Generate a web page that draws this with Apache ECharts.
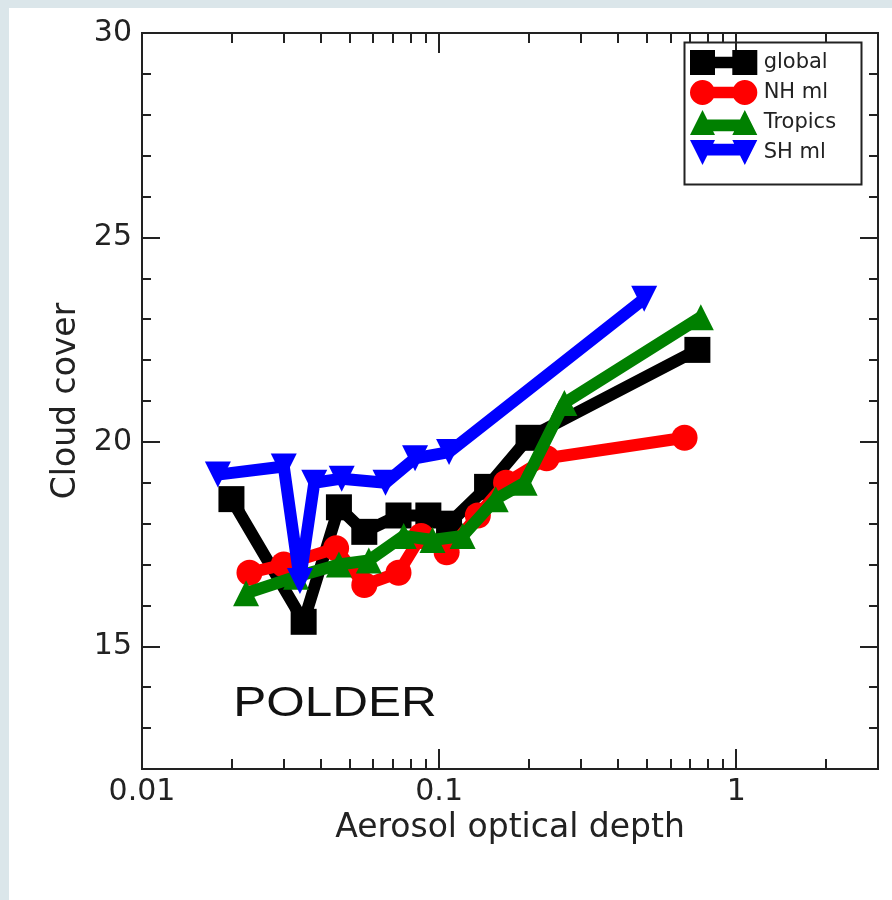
<!DOCTYPE html>
<html><head><meta charset="utf-8">
<script src="https://cdn.jsdelivr.net/npm/echarts@6/dist/echarts.min.js"></script>
<style>html,body{margin:0;padding:0;background:#fff}#c{width:892px;height:900px}</style>
</head><body><div id="c"></div>
<script>
const seriesNames = ['global', 'NH ml', 'Tropics', 'SH ml'];
const globalX = [0.02, 0.035, 0.046, 0.056, 0.073, 0.092, 0.108, 0.145, 0.2, 0.74];
const globalY = [18.6, 15.6, 18.4, 17.8, 18.2, 18.2, 18.0, 18.9, 20.1, 22.25];
const nhX = [0.023, 0.030, 0.045, 0.056, 0.073, 0.087, 0.106, 0.135, 0.168, 0.23, 0.67];
const nhY = [16.8, 17.0, 17.4, 16.5, 16.8, 17.7, 17.3, 18.2, 19.0, 19.6, 20.1];
const trX = [0.0224, 0.033, 0.046, 0.058, 0.076, 0.095, 0.12, 0.155, 0.194, 0.264, 0.76];
const trY = [16.3, 16.7, 17.0, 17.1, 17.7, 17.6, 17.7, 18.6, 19.0, 20.95, 23.05];
const shX = [0.018, 0.030, 0.034, 0.038, 0.047, 0.066, 0.083, 0.108, 0.49];
const shY = [19.2, 19.4, 16.6, 19.0, 19.1, 19.0, 19.6, 19.75, 23.5];
const xMajorTicks = [0.01, 0.1, 1];
const xMinorTicks = [0.02, 0.03, 0.04, 0.05, 0.06, 0.07, 0.08, 0.09, 0.2, 0.3, 0.4, 0.5, 0.6, 0.7, 0.8, 0.9, 2];
const yMajorTicks = [15, 20, 25, 30];
const yMinorTicks = [13, 14, 16, 17, 18, 19, 21, 22, 23, 24, 26, 27, 28, 29];

const FONT = 'DejaVu Sans, Verdana, sans-serif';
const FONT2 = 'Liberation Sans, Arial, Helvetica, sans-serif';
const AX = '#222';
const colors = ['#000000', '#ff0000', '#008000', '#0000ff'];
const symbols = ['rect', 'circle', 'triangle', 'triangle'];
const rotates = [0, 0, 0, 180];
const icons = [
  'path://M0,0 H26 V7 H44 V0 H70 V26 H44 V19 H26 V26 H0 Z',
  'path://M0,13 A13,13 0 1,1 26,13 A13,13 0 1,1 0,13 Z M13,7 H57 V19 H13 Z M44,13 A13,13 0 1,1 70,13 A13,13 0 1,1 44,13 Z',
  'path://M0,26 L13,0 L26,26 Z M13,10 H57 V22 H13 Z M44,26 L57,0 L70,26 Z',
  'path://M0,0 L26,0 L13,26 Z M13,4 H57 V16 H13 Z M44,0 L70,0 L57,26 Z'
];
const xs = [globalX, nhX, trX, shX];
const ys = [globalY, nhY, trY, shY];

function pairs(a, b) { return a.map((v, i) => [v, b[i]]); }

function xAxisDef(pos, ticks, len, labels) {
  return {
    type: 'log', logBase: 10, min: 0.01, max: 3, position: pos, gridIndex: 0,
    axisLine: { show: true, lineStyle: { color: AX, width: 2 } },
    axisTick: { show: true, inside: true, length: len, customValues: ticks, lineStyle: { color: AX, width: 2 } },
    axisLabel: labels ? {
      show: true, customValues: xMajorTicks, margin: 8,
      formatter: v => String(v), fontSize: 30, fontFamily: FONT, color: AX
    } : { show: false },
    splitLine: { show: false }, minorTick: { show: false }
  };
}
function yAxisDef(pos, ticks, len, labels) {
  return {
    type: 'value', min: 12, max: 30, position: pos, gridIndex: 0,
    axisLine: { show: true, lineStyle: { color: AX, width: 2 } },
    axisTick: { show: true, inside: true, length: len, customValues: ticks, lineStyle: { color: AX, width: 2 } },
    axisLabel: labels ? {
      show: true, customValues: yMajorTicks, margin: 10,
      fontSize: 30, fontFamily: FONT, color: AX
    } : { show: false },
    splitLine: { show: false }
  };
}

const xAxes = [
  xAxisDef('bottom', xMajorTicks, 20, true),
  xAxisDef('top', xMajorTicks, 20, false),
  xAxisDef('bottom', xMinorTicks, 10, false),
  xAxisDef('top', xMinorTicks, 10, false)
];
xAxes[0].name = 'Aerosol optical depth';
xAxes[0].nameLocation = 'middle';
xAxes[0].nameGap = 39;
xAxes[0].nameTextStyle = { fontSize: 33, fontFamily: FONT, color: AX };

const yAxes = [
  yAxisDef('left', yMajorTicks, 18, true),
  yAxisDef('right', yMajorTicks, 18, false),
  yAxisDef('left', yMinorTicks, 9, false),
  yAxisDef('right', yMinorTicks, 9, false)
];
yAxes[0].name = 'Cloud cover';
yAxes[0].nameLocation = 'middle';
yAxes[0].nameGap = 52;
yAxes[0].nameTextStyle = { fontSize: 33, fontFamily: FONT, color: AX };

const series = seriesNames.map((n, i) => ({
  name: n, type: 'line', xAxisIndex: 0, yAxisIndex: 0,
  data: pairs(xs[i], ys[i]),
  symbol: symbols[i], symbolRotate: rotates[i], symbolSize: 26,
  showSymbol: true,
  lineStyle: { color: colors[i], width: 12 },
  itemStyle: { color: colors[i], borderWidth: 0 },
  emphasis: { disabled: true },
  z: 2 + i
}));

const chart = echarts.init(document.getElementById('c'), null, { renderer: 'canvas' });
chart.setOption({
  animation: false,
  backgroundColor: '#ffffff',
  grid: { left: 142, right: 14, top: 33, bottom: 131, containLabel: false },
  xAxis: xAxes,
  yAxis: yAxes,
  legend: {
    orient: 'vertical', left: 690, top: 50, padding: 0, itemGap: 5,
    itemWidth: 70, itemHeight: 25,
    data: seriesNames.map((n, i) => ({ name: n, icon: icons[i], itemStyle: { color: colors[i] } })),
    textStyle: { fontSize: 21, fontFamily: FONT, color: AX },
    selectedMode: false
  },
  graphic: [
    { type: 'rect', left: 0, top: 0, shape: { width: 892, height: 8 }, style: { fill: '#dbe6ea' }, silent: true },
    { type: 'rect', left: 0, top: 0, shape: { width: 9, height: 900 }, style: { fill: '#dbe6ea' }, silent: true },
    { type: 'rect', left: 682, top: 40, shape: { width: 177, height: 142 }, style: { fill: 'none', stroke: AX, lineWidth: 2 }, silent: true, z: 10 },
    { type: 'text', x: 335, y: 704, scaleX: 1.15, style: { text: 'POLDER', font: '43px ' + FONT2, align: 'center', verticalAlign: 'middle', fill: '#111' }, silent: true, z: 10 }
  ],
  series: series
});
</script>
</body></html>
